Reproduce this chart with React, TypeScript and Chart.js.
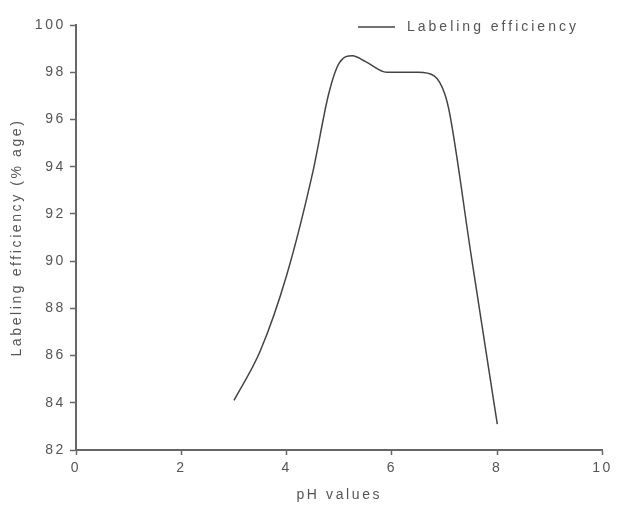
import React, { useEffect, useRef } from "react";
import { Chart, registerables } from "chart.js";

Chart.register(...registerables);

const phValues = [3, 3.5, 4, 4.5, 4.8, 5, 5.25, 5.5, 5.9, 6.5, 6.8, 7, 7.1, 7.5, 8];
const efficiency = [84.1, 86.2, 89.4, 93.8, 97.1, 98.4, 98.7, 98.45, 98.0, 98.0, 97.85, 97.1, 96.2, 90.3, 83.1];
const seriesLabel = "Labeling efficiency";
const xTitle = "pH values";
const yTitle = "Labeling efficiency (% age)";

const FONT = "'Liberation Sans', Arial, sans-serif";
const SPACING = "2.6px";
const TEXT = "#555555";
const AXIS = "#666666";
const LINE = "#444444";

const spacingPlugin = {
  id: "spacing",
  beforeLayout(chart: any) {
    chart.ctx.letterSpacing = SPACING;
  },
  beforeDraw(chart: any) {
    chart.ctx.letterSpacing = SPACING;
  },
};

const legendPlugin = {
  id: "customLegend",
  afterDraw(chart: any) {
    const { ctx, chartArea } = chart;
    const y = chartArea.top + 2;
    const textX = chartArea.left + 331;
    ctx.save();
    ctx.letterSpacing = "3px";
    ctx.strokeStyle = LINE;
    ctx.lineWidth = 1.5;
    ctx.beginPath();
    ctx.moveTo(textX - 49, y);
    ctx.lineTo(textX - 12, y);
    ctx.stroke();
    ctx.fillStyle = TEXT;
    ctx.font = `14px ${FONT}`;
    ctx.textBaseline = "middle";
    ctx.textAlign = "left";
    ctx.fillText(chart.data.datasets[0].label, textX, y);
    ctx.restore();
  },
};

export default function App() {
  const ref = useRef<HTMLCanvasElement>(null);
  useEffect(() => {
    document.body.style.margin = "0";
    const chart = new Chart(ref.current as HTMLCanvasElement, {
      type: "line",
      data: {
        datasets: [
          {
            label: seriesLabel,
            data: phValues.map((x, i) => ({ x, y: efficiency[i] })),
            borderColor: LINE,
            borderWidth: 1.5,
            pointRadius: 0,
            fill: false,
            cubicInterpolationMode: "monotone",
          },
        ],
      },
      options: {
        animation: false,
        responsive: true,
        maintainAspectRatio: false,
        layout: { padding: { top: 25, right: 11, left: 0, bottom: 0 } },
        plugins: { legend: { display: false }, tooltip: { enabled: false } },
        scales: {
          x: {
            type: "linear",
            min: 0,
            max: 10,
            ticks: { stepSize: 2, color: TEXT, font: { family: FONT, size: 14 }, padding: 5, maxRotation: 0 },
            grid: { drawOnChartArea: false, drawTicks: true, tickLength: 5, color: AXIS, tickWidth: 1.5 },
            border: { color: AXIS, width: 2 },
            title: { display: true, text: xTitle, color: TEXT, font: { family: FONT, size: 14 }, padding: { top: 0, bottom: 2 } },
            afterFit(scale: any) {
              scale.height = 56;
            },
          },
          y: {
            min: 82,
            max: 100,
            ticks: { stepSize: 2, color: TEXT, font: { family: FONT, size: 14 }, padding: 4 },
            grid: { drawOnChartArea: false, drawTicks: true, tickLength: 6, color: AXIS, tickWidth: 1.5 },
            border: { color: AXIS, width: 2 },
            title: { display: true, text: yTitle, color: TEXT, font: { family: FONT, size: 14 }, padding: { top: 9, bottom: 0 } },
            afterFit(scale: any) {
              scale.width = 76;
            },
          },
        },
      },
      plugins: [spacingPlugin, legendPlugin],
    } as any);
    return () => chart.destroy();
  }, []);
  return (
    <div style={{ position: "absolute", left: 0, top: 0, width: 618, height: 506, background: "#fff" }}>
      <canvas ref={ref} />
    </div>
  );
}
